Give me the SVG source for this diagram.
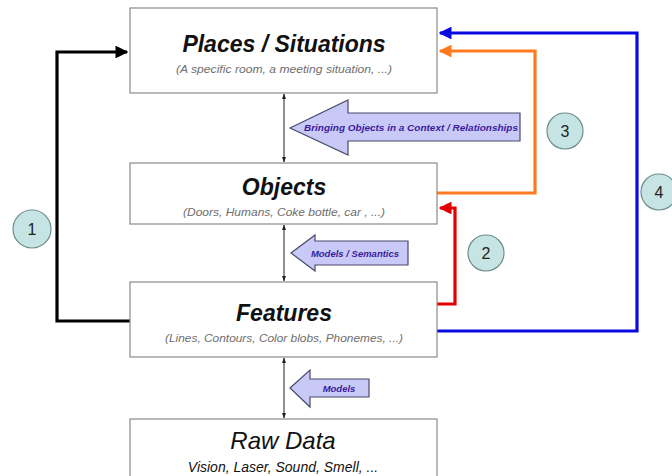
<svg xmlns="http://www.w3.org/2000/svg" width="672" height="476" viewBox="0 0 672 476">
<style>
.box{fill:#fff;stroke:#8a8a8a;stroke-width:1.2}
.title{font-family:"Liberation Sans",Arial,sans-serif;font-weight:bold;font-style:italic;font-size:23px;fill:#111;text-anchor:middle}
.sub{font-family:"Liberation Sans",Arial,sans-serif;font-style:italic;font-size:11.5px;fill:#6e6e6e;text-anchor:middle}
.big{fill:#c9c9f7;stroke:#4a4a6a;stroke-width:1.2}
.lbl{font-family:"Liberation Sans",Arial,sans-serif;font-weight:bold;font-style:italic;font-size:9.5px;fill:#3a1c9c;text-anchor:middle}
.conn{fill:none;stroke-width:3.2}
.dbl{stroke:#222;stroke-width:1}
.num{fill:#c6e4e4;stroke:#6f8c8c;stroke-width:1.2}
.numt{font-family:"Liberation Sans",Arial,sans-serif;font-size:16px;fill:#222;text-anchor:middle}
</style>
<defs>
<marker id="mk" viewBox="0 0 10 10" refX="9" refY="5" markerWidth="4" markerHeight="4" orient="auto"><path d="M0,0L10,5L0,10z" fill="#000"/></marker>
<marker id="mb" viewBox="0 0 10 10" refX="9" refY="5" markerWidth="4" markerHeight="4" orient="auto"><path d="M0,0L10,5L0,10z" fill="#0a0ae0"/></marker>
<marker id="mo" viewBox="0 0 10 10" refX="9" refY="5" markerWidth="4" markerHeight="4" orient="auto"><path d="M0,0L10,5L0,10z" fill="#ff7a1e"/></marker>
<marker id="mr" viewBox="0 0 10 10" refX="9" refY="5" markerWidth="4" markerHeight="4" orient="auto"><path d="M0,0L10,5L0,10z" fill="#e40000"/></marker>
<marker id="ms" viewBox="0 0 10 10" refX="9" refY="5" markerWidth="6" markerHeight="6" orient="auto-start-reverse"><path d="M0,1.5L10,5L0,8.5z" fill="#222"/></marker>
</defs>

<g id="connectors">
<path class="conn" stroke="#000" d="M130,321H57V52H127" marker-end="url(#mk)"/>
<path class="conn" stroke="#0a0ae0" d="M437,331H637V33H440" marker-end="url(#mb)"/>
<path class="conn" stroke="#ff7a1e" d="M437,193H535V51H440" marker-end="url(#mo)"/>
<path class="conn" stroke="#e40000" d="M437,304H455V208H440" marker-end="url(#mr)"/>
<line class="dbl" x1="284" y1="94" x2="284" y2="162" marker-start="url(#ms)" marker-end="url(#ms)"/>
<line class="dbl" x1="284" y1="225" x2="284" y2="281" marker-start="url(#ms)" marker-end="url(#ms)"/>
<line class="dbl" x1="284" y1="358" x2="284" y2="418" marker-start="url(#ms)" marker-end="url(#ms)"/>
</g>

<g id="places">
<rect class="box" x="130" y="8" width="307" height="85"/>
<text class="title" x="284" y="52">Places / Situations</text>
<text class="sub" x="284" y="73" textLength="216" lengthAdjust="spacingAndGlyphs">(A specific room, a meeting situation,  ...)</text>
</g>
<g id="objects">
<rect class="box" x="130" y="163" width="307" height="61"/>
<text class="title" x="284" y="195">Objects</text>
<text class="sub" x="284" y="216" textLength="202" lengthAdjust="spacingAndGlyphs">(Doors, Humans, Coke bottle, car , ...)</text>
</g>
<g id="features">
<rect class="box" x="130" y="282" width="307" height="75"/>
<text class="title" x="284" y="321">Features</text>
<text class="sub" x="284" y="342" textLength="238" lengthAdjust="spacingAndGlyphs">(Lines, Contours, Color blobs, Phonemes, ...)</text>
</g>
<g id="rawdata">
<rect class="box" x="130" y="419" width="307" height="70"/>
<text x="283" y="449" font-family="Liberation Sans, Arial, sans-serif" font-style="italic" font-size="24" fill="#111" text-anchor="middle">Raw Data</text>
<text x="283" y="472" font-family="Liberation Sans, Arial, sans-serif" font-style="italic" font-size="14" fill="#111" text-anchor="middle">Vision, Laser, Sound, Smell, ...</text>
</g>

<g id="arrow-context">
<polygon class="big" points="290,128 348,100 348,113 520,113 520,141 348,141 348,155"/>
<text class="lbl" x="411" y="131" textLength="214" lengthAdjust="spacingAndGlyphs">Bringing Objects in a Context / Relationships</text>
</g>
<g id="arrow-semantics">
<polygon class="big" points="291,253 315,235 315,241 408,241 408,265 315,265 315,271"/>
<text class="lbl" x="355" y="256.5">Models / Semantics</text>
</g>
<g id="arrow-models">
<polygon class="big" points="290,388 310,370 310,379 369,379 369,397 310,397 310,407"/>
<text class="lbl" x="339" y="391.5">Models</text>
</g>

<g id="n1"><circle class="num" cx="32" cy="229" r="19"/><text class="numt" x="32" y="235">1</text></g>
<g id="n2"><circle class="num" cx="486" cy="253" r="18"/><text class="numt" x="486" y="259">2</text></g>
<g id="n3"><circle class="num" cx="565" cy="131" r="18"/><text class="numt" x="565" y="137">3</text></g>
<g id="n4"><circle class="num" cx="659" cy="192" r="18"/><text class="numt" x="659" y="198">4</text></g>
</svg>
